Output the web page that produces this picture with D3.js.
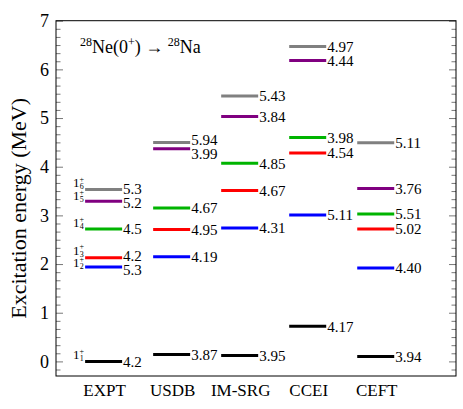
<!DOCTYPE html>
<html><head><meta charset="utf-8">
<script src="https://cdn.jsdelivr.net/npm/d3@7"></script>
<style>body{margin:0;background:#fff}</style>
</head><body><svg id="c" width="463" height="409" font-family="'Liberation Serif', 'DejaVu Serif', serif"></svg>
<script>
const categories = ["EXPT","USDB","IM-SRG","CCEI","CEFT"];
const levelColors = ["#000000","#0000ff","#ff0000","#00b400","#800080","#808080"];
const level1 = [0.00, 0.14, 0.12, 0.72, 0.10];
const level2 = [1.94, 2.15, 2.74, 3.01, 1.92];
const level3 = [2.13, 2.71, 3.51, 4.28, 2.72];
const level4 = [2.72, 3.15, 4.07, 4.60, 3.03];
const level5 = [3.29, 4.37, 5.03, 6.18, 3.55];
const level6 = [3.53, 4.50, 5.455, 6.47, 4.49];
const logft1 = ["4.2","3.87","3.95","4.17","3.94"];
const logft2 = ["5.3","4.19","4.31","5.11","4.40"];
const logft3 = ["4.2","4.95","4.67","4.54","5.02"];
const logft4 = ["4.5","4.67","4.85","3.98","5.51"];
const logft5 = ["5.2","3.99","3.84","4.44","3.76"];
const logft6 = ["5.3","5.94","5.43","4.97","5.11"];
const stateIndex = ["1","2","3","4","5","6"];
const yTicks = [0,1,2,3,4,5,6,7];

const levels = [level1,level2,level3,level4,level5,level6];
const logfts = [logft1,logft2,logft3,logft4,logft5,logft6];
const FONT = "'Liberation Serif', 'DejaVu Serif', serif";

const svg = d3.select("#c");
const L=56, R=456, T=20.7, B=376;
const y = d3.scaleLinear().domain([-0.3,7]).range([B,T]);
const x = d3.scaleLinear().domain([-0.7,5.18]).range([L,R]);
const hw = 0.272;

// axes
const minor = d3.range(-1, 43).map(i=>i/6).filter(v=>v>=-0.3 && v<=7 && Math.abs(v-Math.round(v))>1e-6);
svg.append("g").attr("transform",`translate(${L},0)`).call(d3.axisLeft(y).tickValues(yTicks).tickSize(-7).tickFormat(""));
svg.append("g").attr("transform",`translate(${R},0)`).call(d3.axisRight(y).tickValues(yTicks).tickSize(-7).tickFormat(""));
svg.append("g").attr("transform",`translate(${L},0)`).call(d3.axisLeft(y).tickValues(minor).tickSize(-4.5).tickFormat(""));
svg.append("g").attr("transform",`translate(${R},0)`).call(d3.axisRight(y).tickValues(minor).tickSize(-4.5).tickFormat(""));
svg.selectAll(".domain").remove();
svg.selectAll(".tick line").attr("stroke","#555").attr("stroke-width",0.8);
svg.append("rect").attr("x",L).attr("y",T).attr("width",R-L).attr("height",B-T)
  .attr("fill","none").attr("stroke","#000").attr("stroke-width",1);

function txt(sel){ return sel.style("font-family",FONT).attr("fill","#000"); }

// y tick labels
txt(svg.selectAll(".ylab").data(yTicks).enter().append("text"))
  .attr("x",L-7).attr("y",d=>y(d)).attr("dy","0.35em").attr("text-anchor","end")
  .attr("font-size",18).text(d=>d);

// category labels
txt(svg.selectAll(".xlab").data(categories).enter().append("text"))
  .attr("x",(d,i)=>x(i)+1).attr("y",396).attr("text-anchor","middle")
  .attr("font-size",17).text(d=>d);

// y title
txt(svg.append("text")).attr("transform",`translate(26,${(T+B)/2+10}) rotate(-90)`)
  .attr("text-anchor","middle").attr("font-size",22).text("Excitation energy (MeV)");

// reaction title
const t = txt(svg.append("text")).attr("x",80).attr("y",53).attr("font-size",18);
t.append("tspan").attr("font-size",12).attr("dy",-7).text("28");
t.append("tspan").attr("dy",7).text("Ne(0");
t.append("tspan").attr("font-size",12).attr("dy",-7).text("+");
t.append("tspan").attr("dy",7).text(") \u2192 ");
t.append("tspan").attr("font-size",12).attr("dy",-7).text("28");
t.append("tspan").attr("dy",7).text("Na");

// levels
const minGap = 14;
categories.forEach((cat,ci)=>{
  const items = levels.map((lv,li)=>({li, e:lv[ci], yy:y(lv[ci]), lab:logfts[li][ci]}));
  items.sort((a,b)=>a.yy-b.yy);
  items.forEach(d=>d.ly=d.yy);
  for(let k=1;k<items.length;k++){
    const gap = items[k].ly-items[k-1].ly;
    if(gap<minGap){const def=minGap-gap; items[k-1].ly-=def/3; items[k].ly+=def*2/3;}
  }
  items.forEach(d=>{
    svg.append("line").attr("x1",x(ci-hw)).attr("x2",x(ci+hw)).attr("y1",d.yy).attr("y2",d.yy)
      .attr("stroke",levelColors[d.li]).attr("stroke-width",3);
    txt(svg.append("text")).attr("x",x(ci+hw)+1).attr("y",d.ly).attr("dy","0.35em")
      .attr("font-size",15).text(d.lab);
    if(ci===0){
      const s = txt(svg.append("text")).attr("x",x(ci-hw)-12).attr("y",d.ly-2+(d.yy-d.ly)*0.3).attr("font-size",13);
      s.append("tspan").text("1");
      s.append("tspan").attr("font-size",8).attr("dy",-5.5).text("+");
      s.append("tspan").attr("font-size",8).attr("dy",7.5).attr("dx",-4.5).text(stateIndex[d.li]);
    }
  });
});
</script></body></html>
